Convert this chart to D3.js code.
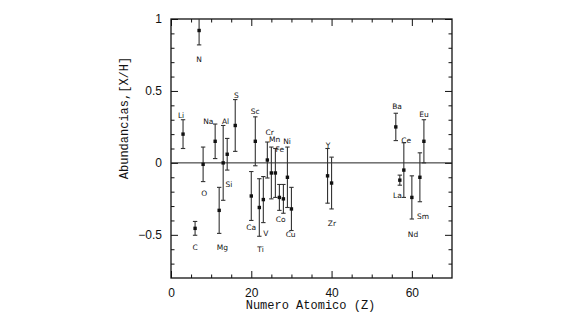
<!DOCTYPE html>
<html>
<head>
<meta charset="utf-8">
<script src="https://cdn.jsdelivr.net/npm/d3@7"></script>
<style>
body { margin: 0; background: #fff; }
svg text { fill: #111; }
</style>
</head>
<body>
<div id="chart"></div>
<script>
const width = 580;
const height = 314;
const marginTop = 19;
const marginRight = 128;
const marginBottom = 36;
const marginLeft = 171;

// elements: atomic number, abundance [X/H], error
const elements = ["Li", "C", "N", "O", "Na", "Mg", "Al", "Si", "S", "Ca", "Sc", "Ti", "V", "Cr", "Mn", "Fe", "Co", "Ni2", "Ni", "Cu", "Y", "Zr", "Ba", "La", "Ce", "Nd", "Sm", "Eu"];
const zValues = [3, 6, 7, 8, 11, 12, 13, 14, 16, 20, 21, 22, 23, 24, 25, 26, 27, 28, 29, 30, 39, 40, 56, 57, 58, 60, 62, 63];
const abund = [0.20, -0.455, 0.92, -0.01, 0.15, -0.33, 0.00, 0.06, 0.26, -0.23, 0.15, -0.31, -0.255, 0.02, -0.07, -0.07, -0.24, -0.25, -0.10, -0.32, -0.09, -0.14, 0.25, -0.12, -0.05, -0.24, -0.10, 0.15];
const errs = [0.10, 0.048, 0.10, 0.12, 0.12, 0.16, 0.26, 0.11, 0.18, 0.17, 0.17, 0.20, 0.16, 0.125, 0.18, 0.17, 0.09, 0.10, 0.21, 0.15, 0.19, 0.18, 0.095, 0.035, 0.19, 0.15, 0.17, 0.15];

// element labels, placed in data units
const labelText = ["N", "Li", "Na", "Al", "S", "Sc", "Cr", "Mn", "Fe", "Ni", "O", "Si", "C", "Mg", "Ca", "V", "Ti", "Co", "Cu", "Y", "Zr", "Ba", "Ce", "La", "Eu", "Sm", "Nd"];
const labelZ = [7, 2.5, 9.3, 13.6, 16.3, 21, 24.6, 25.8, 27.1, 28.9, 8.3, 14.4, 6, 12.8, 20, 23.6, 22.3, 27.3, 29.8, 39.1, 40.1, 56.3, 58.6, 56.4, 63, 62.8, 60.3];
const labelV = [0.72, 0.33, 0.29, 0.29, 0.47, 0.36, 0.215, 0.16, 0.093, 0.15, -0.21, -0.15, -0.59, -0.59, -0.45, -0.49, -0.60, -0.39, -0.50, 0.12, -0.42, 0.39, 0.155, -0.225, 0.34, -0.375, -0.50];

const xMajor = [0, 20, 40, 60];
const xTickLabels = ["0", "20", "40", "60"];
const yMajor = [-0.5, 0, 0.5, 1];
const yTickLabels = ["\u22120.5", "0", "0.5", "1"];

const innerW = width - marginLeft - marginRight;
const innerH = height - marginTop - marginBottom;

const x = d3.scaleLinear().domain([0, 70]).range([0, innerW]);
const y = d3.scaleLinear().domain([-0.8, 1.0]).range([innerH, 0]);

const svg = d3.select("#chart")
    .append("svg")
    .attr("width", width)
    .attr("height", height)
    .append("g")
    .attr("transform", `translate(${marginLeft},${marginTop})`);

svg.append("clipPath").attr("id", "clip")
    .append("rect").attr("width", innerW).attr("height", innerH);

const xMinor = d3.range(5, 70, 5).filter(v => v % 20 !== 0);
const yMinor = d3.range(-7, 10, 1).map(v => v / 10).filter(v => Math.abs(v * 2 - Math.round(v * 2)) > 1e-6);

function styleAxis(g) {
    g.select(".domain").remove();
    g.selectAll(".tick line").attr("stroke", "#111").attr("stroke-width", 1);
    g.selectAll("text").attr("font-family", "Liberation Sans, Arial, sans-serif").attr("font-size", 12).attr("fill", "#111");
}

// bottom
svg.append("g").attr("transform", `translate(0,${innerH})`)
    .call(d3.axisBottom(x).tickValues(xMajor).tickSize(-7).tickPadding(10).tickFormat((d, i) => xTickLabels[i]))
    .call(styleAxis);
svg.append("g").attr("transform", `translate(0,${innerH})`)
    .call(d3.axisBottom(x).tickValues(xMinor).tickSize(-3.5).tickFormat(""))
    .call(styleAxis);
// top
svg.append("g")
    .call(d3.axisTop(x).tickValues(xMajor).tickSize(-7).tickFormat(""))
    .call(styleAxis);
svg.append("g")
    .call(d3.axisTop(x).tickValues(xMinor).tickSize(-3.5).tickFormat(""))
    .call(styleAxis);
// left
svg.append("g")
    .call(d3.axisLeft(y).tickValues(yMajor).tickSize(-7).tickPadding(9).tickFormat((d, i) => yTickLabels[i]))
    .call(styleAxis);
svg.append("g")
    .call(d3.axisLeft(y).tickValues(yMinor).tickSize(-3.5).tickFormat(""))
    .call(styleAxis);
// right
svg.append("g").attr("transform", `translate(${innerW},0)`)
    .call(d3.axisRight(y).tickValues(yMajor).tickSize(-7).tickFormat(""))
    .call(styleAxis);
svg.append("g").attr("transform", `translate(${innerW},0)`)
    .call(d3.axisRight(y).tickValues(yMinor).tickSize(-3.5).tickFormat(""))
    .call(styleAxis);

// frame
svg.append("rect")
    .attr("width", innerW)
    .attr("height", innerH)
    .attr("fill", "none")
    .attr("stroke", "#111")
    .attr("stroke-width", 1.3);

// zero line
svg.append("line")
    .attr("x1", 0).attr("x2", innerW)
    .attr("y1", y(0)).attr("y2", y(0))
    .attr("stroke", "#222")
    .attr("stroke-width", 1);

const data = elements.map((e, i) => ({ name: e, z: zValues[i], v: abund[i], err: errs[i] }));

const marks = svg.append("g").attr("clip-path", "url(#clip)");
const pts = marks.selectAll(".pt")
    .data(data)
    .enter()
    .append("g")
    .attr("class", "pt");

pts.append("line")
    .attr("x1", d => x(d.z)).attr("x2", d => x(d.z))
    .attr("y1", d => y(d.v + d.err)).attr("y2", d => y(d.v - d.err))
    .attr("stroke", "#333").attr("stroke-width", 1.1);
pts.append("line")
    .attr("x1", d => x(d.z) - 2.2).attr("x2", d => x(d.z) + 2.2)
    .attr("y1", d => y(d.v + d.err)).attr("y2", d => y(d.v + d.err))
    .attr("stroke", "#333").attr("stroke-width", 1.1);
pts.append("line")
    .attr("x1", d => x(d.z) - 2.2).attr("x2", d => x(d.z) + 2.2)
    .attr("y1", d => y(d.v - d.err)).attr("y2", d => y(d.v - d.err))
    .attr("stroke", "#333").attr("stroke-width", 1.1);
pts.append("rect")
    .attr("x", d => x(d.z) - 1.7).attr("y", d => y(d.v) - 1.7)
    .attr("width", 3.4).attr("height", 3.4)
    .attr("fill", "#111");

svg.selectAll(".lab")
    .data(labelText)
    .enter()
    .append("text")
    .attr("class", "lab")
    .attr("x", (d, i) => x(labelZ[i]))
    .attr("y", (d, i) => y(labelV[i]))
    .attr("dy", "0.35em")
    .attr("text-anchor", "middle")
    .attr("font-family", "DejaVu Sans, sans-serif")
    .attr("font-size", 7.5)
    .text(d => d);

// axis titles
svg.append("text")
    .attr("x", x(35) - 1)
    .attr("y", innerH + 31)
    .attr("text-anchor", "middle")
    .attr("font-family", "Liberation Mono, Courier New, monospace")
    .attr("font-size", 12)
    .text("Numero Atomico (Z)");

svg.append("text")
    .attr("transform", `translate(${-43},${99}) rotate(-90)`)
    .attr("text-anchor", "middle")
    .attr("font-family", "Liberation Mono, Courier New, monospace")
    .attr("font-size", 12)
    .text("Abundancias,[X/H]");
</script>
</body>
</html>
